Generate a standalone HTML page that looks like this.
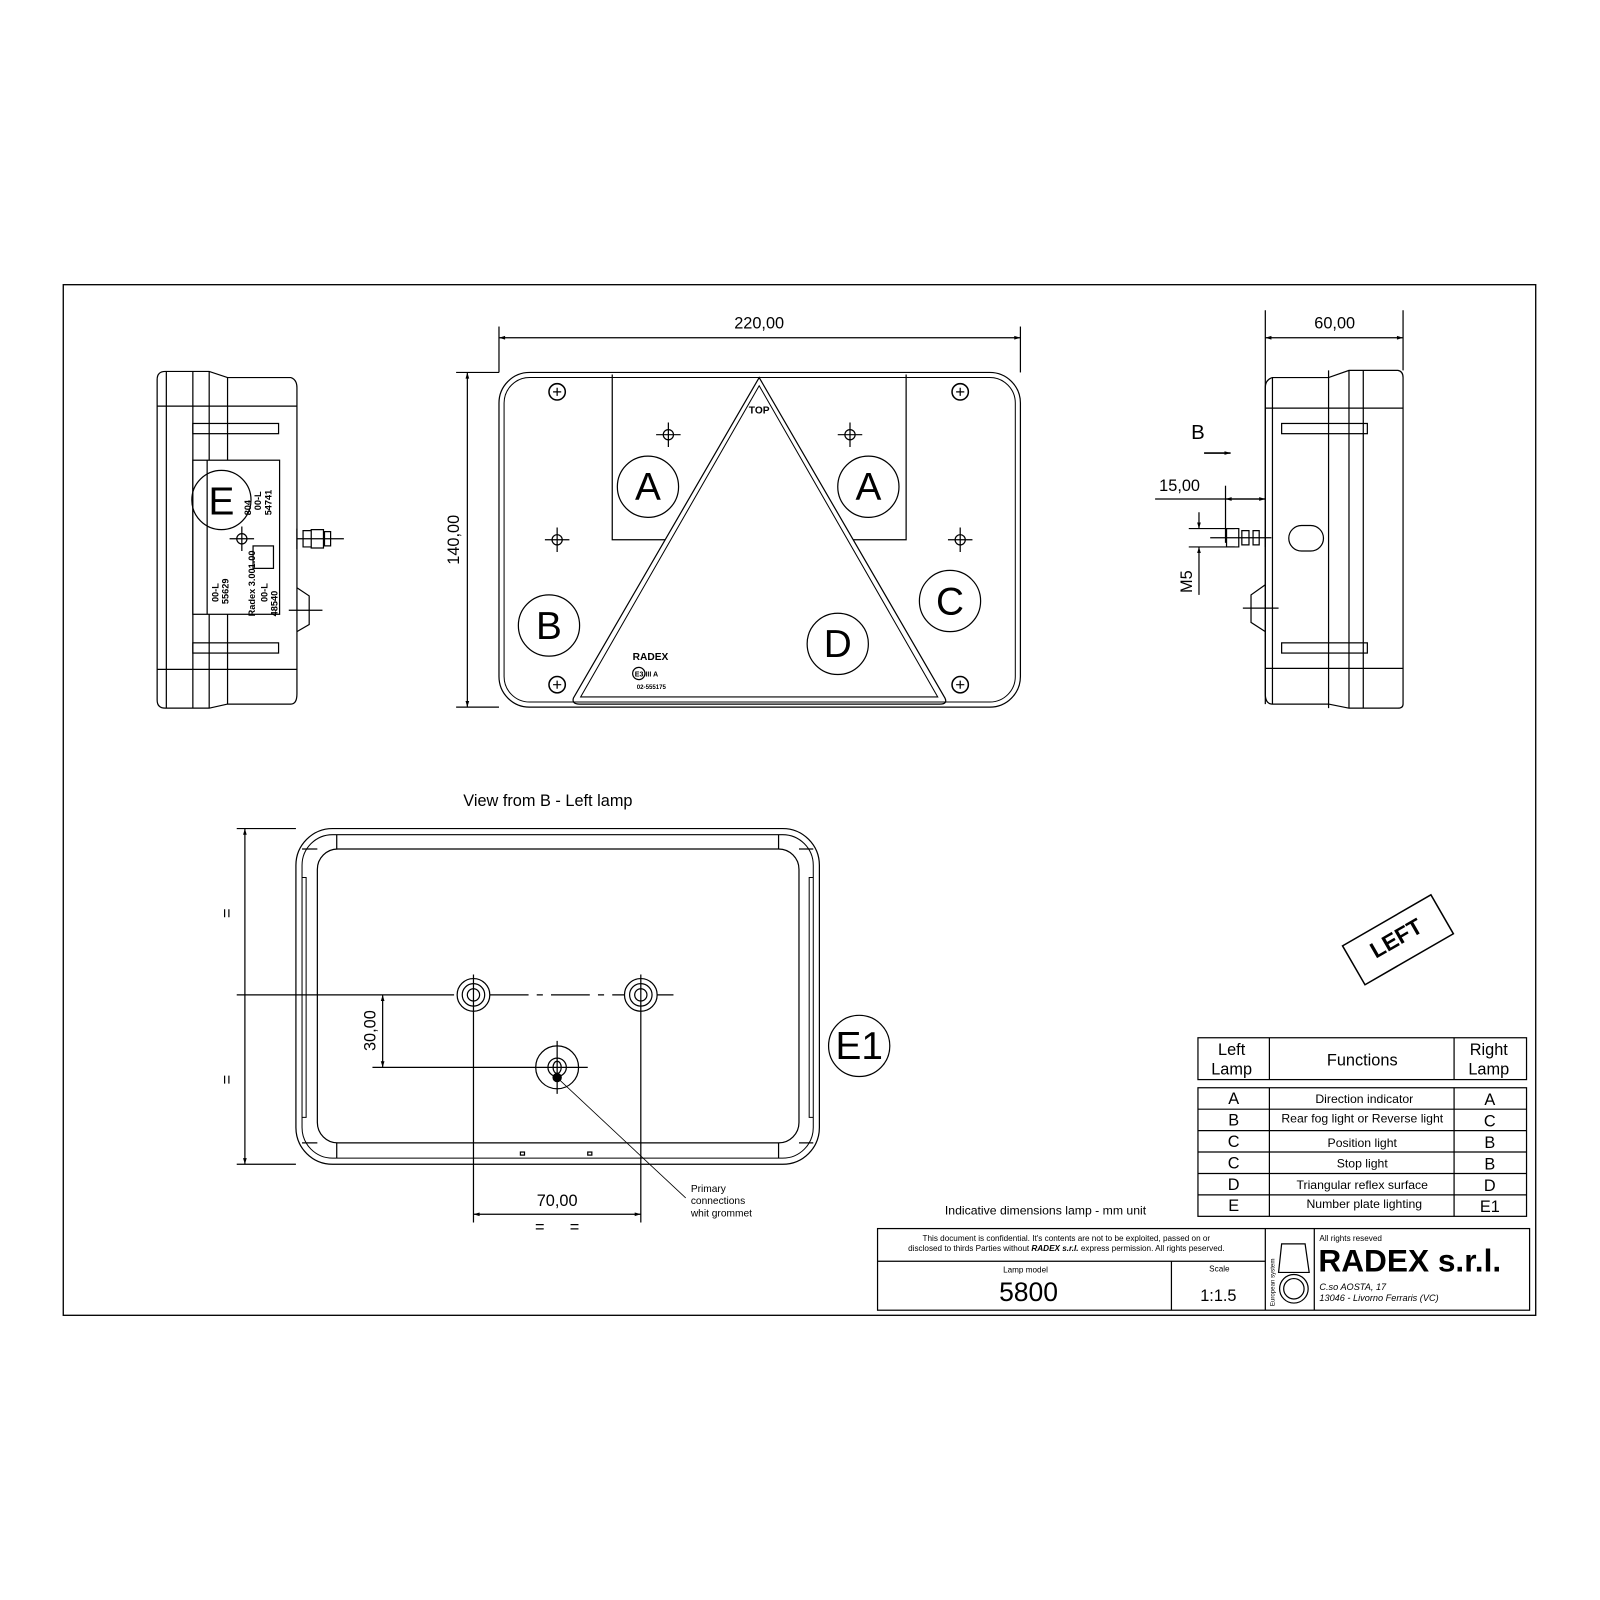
<!DOCTYPE html>
<html><head><meta charset="utf-8"><style>html,body{margin:0;padding:0;background:#fff}svg{display:block}text{font-family:"Liberation Sans",sans-serif;fill:#000}</style></head><body>
<svg width="1600" height="1600" viewBox="0 0 1568 1568" xmlns="http://www.w3.org/2000/svg">
<defs><marker id="ar" viewBox="0 0 10 10" refX="10" refY="5" markerWidth="10" markerHeight="6" orient="auto-start-reverse" markerUnits="userSpaceOnUse"><path d="M0,2 L10,5 L0,8 z" fill="#000"/></marker></defs>
<g fill="none" stroke="#000" stroke-width="1.2">
<rect x="62" y="279" width="1443" height="1010" stroke-width="1.3"/>

<!-- FRONT VIEW -->
<rect x="489" y="365" width="511" height="328" rx="30"/>
<rect x="494" y="370" width="501" height="318" rx="25" stroke-width="1"/>
<path d="M600,367 V529 H652 M888,367 V529 H836"/>
<path d="M744,370 L562,684 Q560,690 568,690 L921,690 Q929,690 926,684 Z"/>
<path d="M744,378 L569,683 L919,683 Z" stroke-width="1"/>
<line x1="489" y1="331" x2="1000" y2="331" marker-start="url(#ar)" marker-end="url(#ar)"/>
<line x1="489" y1="320" x2="489" y2="365"/><line x1="1000" y1="320" x2="1000" y2="365"/>
<line x1="458" y1="365" x2="458" y2="693" marker-start="url(#ar)" marker-end="url(#ar)"/>
<line x1="447" y1="365" x2="489" y2="365"/><line x1="447" y1="693" x2="489" y2="693"/>
<circle cx="635" cy="477" r="30"/><circle cx="851" cy="477" r="30"/>
<circle cx="538" cy="613" r="30"/><circle cx="931" cy="589" r="30"/><circle cx="821" cy="631" r="30"/>
<g stroke-width="1.5"><circle cx="546" cy="384" r="8"/><circle cx="941" cy="384" r="8"/><circle cx="546" cy="671" r="8"/><circle cx="941" cy="671" r="8"/></g>
<path d="M542,384h8M546,380v8M937,384h8M941,380v8M542,671h8M546,667v8M937,671h8M941,667v8"/>
<g><circle cx="655" cy="426" r="5"/><path d="M643,426h24M655,414v24"/>
<circle cx="833" cy="426" r="5"/><path d="M821,426h24M833,414v24"/>
<circle cx="546" cy="529" r="5"/><path d="M534,529h24M546,517v24"/>
<circle cx="941" cy="529" r="5"/><path d="M929,529h24M941,517v24"/></g>
<ellipse cx="626" cy="660" rx="6" ry="6"/>

<!-- LEFT SIDE VIEW -->
<path d="M162,364 H205 L223,370 H285 Q291,372 291,380 V680 Q291,690 285,690 H223 L205,694 H162 Q154,694 154,686 V372 Q154,364 162,364 Z"/>
<path d="M163,364V694M189,364V694M205,364V694M223,370V451M223,602V690M154,398H291M154,656H291"/>
<rect x="189" y="415" width="84" height="10"/><rect x="189" y="630" width="84" height="10"/>
<rect x="189" y="451" width="85" height="151" fill="#fff"/>
<line x1="203" y1="451" x2="203" y2="602"/>
<circle cx="217" cy="490" r="29"/>
<circle cx="237" cy="528" r="5"/><path d="M225,528h24M237,516v24"/>
<path d="M291,518v20M291,528h46M297,520h8v16h-8zM305,519h12v18h-12zM318,521h6v14h-6z"/>
<path d="M291,576 L303,584 V612 L291,619 M283,598h33"/>
<rect x="248" y="535" width="20" height="22"/>

<!-- RIGHT SIDE VIEW -->
<path d="M1247,370 H1302 L1322,363 H1370 Q1375,364 1375,370 V690 Q1375,694 1370,694 H1322 L1302,690 H1247 Q1240,690 1240,680 V380 Q1240,372 1247,370 Z"/>
<path d="M1240,304V690M1247,370V690M1302,363V694M1322,363V694M1336,363V694M1375,304V363M1240,400H1375M1240,655H1375"/>
<rect x="1256" y="415" width="84" height="10"/><rect x="1256" y="630" width="84" height="10"/>
<rect x="1263" y="515" width="34" height="25" rx="12.5"/>
<path d="M1240,520v16M1186,527h60M1202,518h12v18h-12zM1217,520h7v14h-7zM1228,520h6v14h-6z"/>
<path d="M1240,573 L1226,583 V610 L1240,619 M1218,596h35"/>
<line x1="1240" y1="331" x2="1375" y2="331" marker-start="url(#ar)" marker-end="url(#ar)"/>
<line x1="1180" y1="444" x2="1206" y2="444" marker-end="url(#ar)" stroke-width="1.5"/>
<line x1="1132" y1="489" x2="1240" y2="489"/>
<line x1="1201" y1="489" x2="1240" y2="489" marker-start="url(#ar)" marker-end="url(#ar)"/>
<line x1="1201" y1="476" x2="1201" y2="532"/>
<path d="M1165,518H1210M1165,536H1210"/>
<line x1="1175" y1="502" x2="1175" y2="518" marker-end="url(#ar)"/>
<line x1="1175" y1="583" x2="1175" y2="536" marker-end="url(#ar)"/>

<!-- BOTTOM VIEW -->
<rect x="290" y="812" width="513" height="329" rx="36"/>
<rect x="296" y="818" width="501" height="317" rx="30" stroke-width="1"/>
<rect x="311" y="832" width="472" height="288" rx="20"/>
<path d="M330,818V832M763,818V832M330,1120V1135M763,1120V1135M296,832H311M296,1120H311M783,832H797M783,1120H797"/>
<path d="M296,860h4v235h-4M797,860h-4v235h4" stroke-width="1"/>
<path d="M232,812H290M232,1141H290M232,975H445"/>
<line x1="240" y1="812" x2="240" y2="1141" marker-start="url(#ar)" marker-end="url(#ar)"/>
<circle cx="464" cy="975" r="16"/><circle cx="464" cy="975" r="11"/><circle cx="464" cy="975" r="6"/>
<circle cx="628" cy="975" r="16"/><circle cx="628" cy="975" r="11"/><circle cx="628" cy="975" r="6"/>
<path d="M480,975H518M526,975H532M540,975H578M586,975H592M600,975H612M644,975H660"/>
<path d="M464,955V1198M628,955V1198"/>
<circle cx="546" cy="1046" r="21"/><circle cx="546" cy="1046" r="9"/><ellipse cx="546" cy="1046" rx="4" ry="6"/>
<path d="M520,1046H576M546,1020V1072M365,1046H525"/>
<circle cx="546" cy="1056" r="4" fill="#000"/>
<line x1="375" y1="975" x2="375" y2="1046" marker-start="url(#ar)" marker-end="url(#ar)"/>
<line x1="464" y1="1190" x2="628" y2="1190" marker-start="url(#ar)" marker-end="url(#ar)"/>
<line x1="548" y1="1058" x2="672" y2="1174" stroke-width="0.8"/>
<rect x="510" y="1129" width="4" height="3"/><rect x="576" y="1129" width="4" height="3"/>
<circle cx="842" cy="1025" r="30"/>

<!-- LEFT box -->
<g transform="translate(1370,921) rotate(-30)"><rect x="-50" y="-22" width="100" height="44" stroke-width="1.5"/></g>

<!-- Table -->
<rect x="1174" y="1017" width="322" height="41"/>
<path d="M1244,1017V1058M1425,1017V1058"/>
<rect x="1174" y="1066" width="322" height="126"/>
<path d="M1244,1066V1192M1425,1066V1192M1174,1087H1496M1174,1108H1496M1174,1129H1496M1174,1150H1496M1174,1171H1496"/>

<!-- Title block -->
<rect x="860" y="1204" width="639" height="80"/>
<path d="M860,1236H1240M1148,1236V1284M1240,1204V1284M1288,1204V1284"/>
<path d="M1256,1219 H1279 L1283,1247 H1253 Z"/>
<circle cx="1268" cy="1263" r="14"/><circle cx="1268" cy="1263" r="10"/>
</g>

<g font-size="16">
<text x="744" y="322" text-anchor="middle">220,00</text>
<text x="1308" y="322" text-anchor="middle">60,00</text>
<text x="1156" y="481" text-anchor="middle">15,00</text>
<text x="1174" y="430" text-anchor="middle" font-size="20">B</text>
<text transform="translate(450,529) rotate(-90)" text-anchor="middle">140,00</text>
<text transform="translate(1168,570) rotate(-90)" text-anchor="middle">M5</text>
<text transform="translate(368,1010) rotate(-90)" text-anchor="middle">30,00</text>
<text x="546" y="1182" text-anchor="middle">70,00</text>
<text x="529" y="1208" text-anchor="middle">=</text><text x="563" y="1208" text-anchor="middle">=</text>
<text transform="translate(228,895) rotate(-90)" text-anchor="middle">=</text>
<text transform="translate(228,1058) rotate(-90)" text-anchor="middle">=</text>
<text x="454" y="790">View from B  - Left lamp</text>
</g>
<g font-size="38" text-anchor="middle">
<text x="635" y="490">A</text><text x="851" y="490">A</text><text x="538" y="626">B</text>
<text x="931" y="602">C</text><text x="821" y="644">D</text><text x="217" y="504">E</text>
<text x="842" y="1038">E1</text>
</g>
<text x="744" y="405" font-size="10" font-weight="bold" text-anchor="middle">TOP</text>
<text x="620" y="647" font-size="10" font-weight="bold">RADEX</text>
<text x="622" y="663" font-size="7" font-weight="bold">E3 III A</text>
<text x="624" y="675" font-size="6" font-weight="bold">02-555175</text>
<g font-size="9" font-weight="bold">
<text transform="translate(256,500) rotate(-90)">00-L</text>
<text transform="translate(266,505) rotate(-90)">54741</text>
<text transform="translate(246,505) rotate(-90)">804</text>
<text transform="translate(214,590) rotate(-90)">00-L</text>
<text transform="translate(224,592) rotate(-90)">55629</text>
<text transform="translate(250,604) rotate(-90)">Radex 3.001.00</text>
<text transform="translate(262,590) rotate(-90)">00-L</text>
<text transform="translate(272,604) rotate(-90)">48540</text>
</g>
<g font-size="10"><text x="677" y="1168">Primary</text><text x="677" y="1180">connections</text><text x="677" y="1192">whit grommet</text></g>
<text transform="translate(1372,926) rotate(-30)" font-size="22" font-weight="bold" text-anchor="middle">LEFT</text>
<g font-size="16" text-anchor="middle">
<text x="1207" y="1034">Left</text><text x="1207" y="1053">Lamp</text>
<text x="1335" y="1044">Functions</text>
<text x="1459" y="1034">Right</text><text x="1459" y="1053">Lamp</text>
<text x="1209" y="1082">A</text><text x="1209" y="1103">B</text><text x="1209" y="1124">C</text><text x="1209" y="1145">C</text><text x="1209" y="1166">D</text><text x="1209" y="1187">E</text>
<text x="1460" y="1083">A</text><text x="1460" y="1104">C</text><text x="1460" y="1125">B</text><text x="1460" y="1146">B</text><text x="1460" y="1167">D</text><text x="1460" y="1188">E1</text>
</g>
<g font-size="12" text-anchor="middle">
<text x="1337" y="1081">Direction  indicator</text>
<text x="1335" y="1100">Rear fog light or Reverse light</text>
<text x="1335" y="1124">Position light</text>
<text x="1335" y="1144">Stop light</text>
<text x="1335" y="1165">Triangular reflex surface</text>
<text x="1337" y="1184">Number plate lighting</text>
</g>
<text x="926" y="1190" font-size="12">Indicative dimensions lamp  -  mm unit</text>
<g font-size="8" text-anchor="middle"><text x="1045" y="1216">This document is confidential.  It's contents are not to be exploited, passed on or</text>
<text x="1045" y="1226">disclosed to thirds Parties without <tspan font-weight="bold" font-style="italic">RADEX s.r.l.</tspan> express permission.  All rights peserved.</text>
<text x="1005" y="1247">Lamp model</text><text x="1195" y="1246">Scale</text></g>
<text x="1008" y="1275" font-size="26" text-anchor="middle">5800</text>
<text x="1194" y="1275" font-size="16" text-anchor="middle">1:1.5</text>
<text transform="translate(1249,1280) rotate(-90)" font-size="6">European system</text>
<text x="1293" y="1216" font-size="8">All rights reseved</text>
<text x="1292" y="1246" font-size="31" font-weight="bold">RADEX s.r.l.</text>
<text x="1293" y="1264" font-size="9" font-style="italic">C.so AOSTA, 17</text>
<text x="1293" y="1275" font-size="9" font-style="italic">13046  -  Livorno Ferraris  (VC)</text>
</svg>
</body></html>
